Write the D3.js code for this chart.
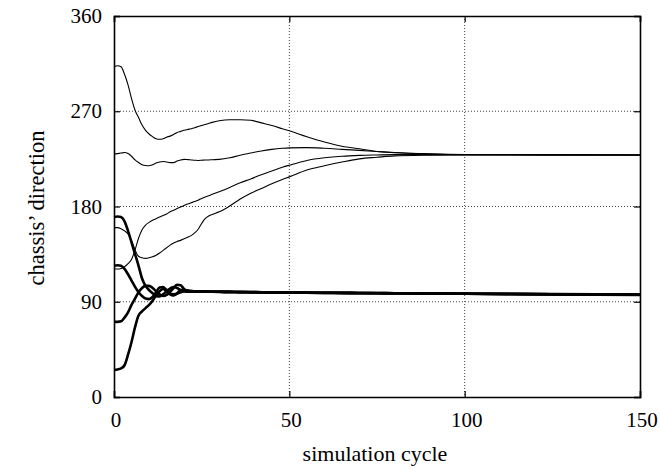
<!DOCTYPE html>
<html><head><meta charset="utf-8">
<script src="https://cdn.jsdelivr.net/npm/d3@7"></script>
<style>body{margin:0;background:#fff}svg{display:block}text{font-family:"Liberation Serif","Times New Roman",serif;fill:#000}</style>
</head><body><svg id="c" width="660" height="469"></svg>
<script>
// shared simulation-cycle sample points
const cycles = [0,1,2,3,4,5,6,7,8,9,10,11,12,13,14,15,16,17,18,19,20,21,22,23,24,25,26,27,28,30,33,36,39,42,45,48,50,55,60,65,70,75,80,90,100,125,150];

// thin series (converge near 229)
const thinA = [312,313,312,305,295,282,271,264,257,252,248.5,246,244,243.5,244,245.5,246.5,248,250,251,252,252.8,253.5,254.5,255.5,256.5,257.5,258.5,259.5,261,262,262,261.5,259,256.5,253.5,251.5,246,241,237,234.5,232,230.8,229.6,229,228.8,228.7];
const thinB = [229.5,230,230.5,231,230,227.5,224,221.5,219.5,218.7,218.5,219.5,221,222,222.5,222,221.5,221.5,223,224,224.5,224.3,224,223.7,223.5,223.7,224,224,224.2,224.5,226,228.5,230.5,232.5,234,235,235.4,235.6,235,234,233,232,231,229.8,229.2,228.9,228.7];
const thinC = [160,160,159,157,154,148,139,133,131.5,131,131.5,132.5,134,136,138.5,141,143.5,145.5,147,148,149.5,151,152.5,155,158.5,164,168.5,171,172.5,175,180.5,187,192.5,197,201.5,205.5,208,214.5,218.5,222,225,226.5,227.8,228.5,228.8,228.7,228.7];
const thinD = [121,121,121.5,123,126,130,139,150,158,162.5,165,167,168.5,170,171.5,173,175,176.5,178,179.5,181,182.3,183.5,184.7,186,187.5,189,190.2,191.5,194,198,202.5,206,210,213.5,217,219,223.5,226,227.5,228.3,228.7,229,229,229,228.8,228.7];

// thick series (converge near 97-100)
const thickA = [170,170.5,170,166,157,146,135,124,112,105,101,98,95.5,95,97,100,102.5,104,103,101,100,99.5,99.5,99.7,99.8,99.8,99.7,99.6,99.5,99.4,99.3,99.1,99,98.9,98.8,98.7,98.6,98.5,98.3,98.2,98.1,98,97.9,97.7,97.5,97,96.5];
const thickB = [124,124.5,124,121,116,110,104,99,95.5,93,92.5,94.5,99,103.5,104,101,97,96,98,101,101,100.5,100,99.8,99.7,99.6,99.5,99.5,99.4,99.3,99.2,99.1,99,98.9,98.8,98.7,98.6,98.5,98.4,98.3,98.2,98.1,98,97.8,97.6,97.1,96.6];
const thickC = [71,71,71.5,75,80,87,93,99,103,105,105,103,100,97,95.5,96.5,99.5,103,106,105.5,102,100,99.5,99.6,99.7,99.7,99.6,99.5,99.5,99.4,99.3,99.2,99.1,99,98.9,98.8,98.7,98.6,98.5,98.4,98.3,98.2,98.1,97.9,97.7,97.2,96.7];
const thickD = [25.5,26,27,30,40,52,66,77,81,84,87,91,96,100,102,100,97.5,97,97.5,99,100,100.5,100,99.9,99.8,99.7,99.6,99.5,99.5,99.4,99.3,99.2,99.1,99,98.9,98.8,98.7,98.6,98.5,98.4,98.3,98.2,98.1,97.9,97.6,97.1,96.6];

const thinSeries = [thinA, thinB, thinC, thinD];
const thickSeries = [thickA, thickB, thickC, thickD];

const xTicks = [0,50,100,150];
const yTicks = [0,90,180,270,360];
const xTitle = "simulation cycle";
const yTitle = "chassis’ direction";

const svg = d3.select("#c");
const L = 114, R = 640, T = 16, B = 397;
const x = d3.scaleLinear().domain([0,150]).range([L,R]);
const y = d3.scaleLinear().domain([0,360]).range([B,T]);

// grid
const g = svg.append("g");
g.selectAll(".gx").data(xTicks.filter(d=>d>0&&d<150)).enter().append("line")
  .attr("x1",d=>x(d)).attr("x2",d=>x(d)).attr("y1",T).attr("y2",B)
  .attr("stroke","#444").attr("stroke-width",1).attr("stroke-dasharray","1,2");
g.selectAll(".gy").data(yTicks.filter(d=>d>0&&d<360)).enter().append("line")
  .attr("x1",L).attr("x2",R).attr("y1",d=>y(d)).attr("y2",d=>y(d))
  .attr("stroke","#444").attr("stroke-width",1).attr("stroke-dasharray","1,2");

// lines
const line = d3.line().x((d,i)=>x(cycles[i])).y(d=>y(d)).curve(d3.curveMonotoneX);
svg.append("g").selectAll("path").data(thinSeries).enter().append("path")
  .attr("d",line).attr("fill","none").attr("stroke","#000").attr("stroke-width",1.1);
svg.append("g").selectAll("path").data(thickSeries).enter().append("path")
  .attr("d",line).attr("fill","none").attr("stroke","#000").attr("stroke-width",2.6);

// axes (inward ticks, gnuplot style)
const fs = 21;
const axB = d3.axisBottom(x).tickValues(xTicks).tickSize(-6).tickPadding(0).tickFormat(()=> "");
const axT = d3.axisTop(x).tickValues(xTicks).tickSize(-6).tickFormat(()=> "");
const axLf = d3.axisLeft(y).tickValues(yTicks).tickSize(-6).tickFormat(()=> "");
const axRt = d3.axisRight(y).tickValues(yTicks).tickSize(-6).tickFormat(()=> "");
[[axB,`translate(0,${B})`],[axT,`translate(0,${T})`],[axLf,`translate(${L},0)`],[axRt,`translate(${R},0)`]].forEach(([a,t])=>{
  const gg = svg.append("g").attr("transform",t).call(a);
  gg.selectAll("path.domain").attr("stroke","#000").attr("stroke-width",1.6);
  gg.selectAll("line").attr("stroke","#000").attr("stroke-width",1.2);
});

// tick labels
svg.append("g").selectAll("text").data(xTicks).enter().append("text")
  .attr("x",d=>x(d)+2).attr("y",427).attr("text-anchor","middle").attr("font-size",fs).text(d=>d);
svg.append("g").selectAll("text").data(yTicks).enter().append("text")
  .attr("x",102).attr("y",d=>y(d)+7).attr("text-anchor","end").attr("font-size",fs).text(d=>d);

// titles
svg.append("text").attr("x",375).attr("y",461).attr("text-anchor","middle").attr("font-size",22).text(xTitle);
svg.append("text").attr("transform",`translate(44,208) rotate(-90)`).attr("text-anchor","middle").attr("font-size",22.5).text(yTitle);
</script></body></html>
